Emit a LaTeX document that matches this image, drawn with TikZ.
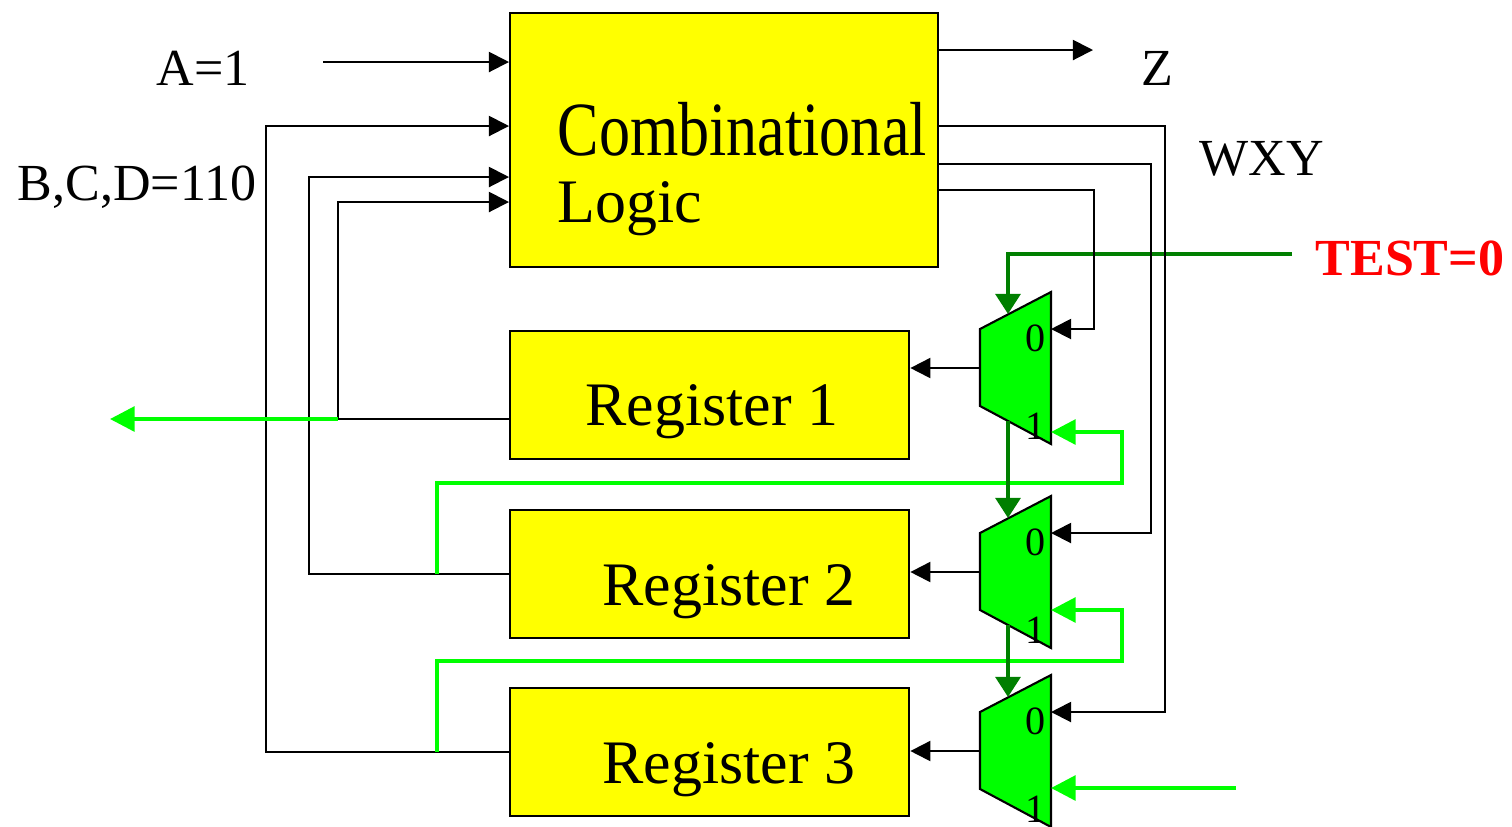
\documentclass[tikz,border=0pt]{standalone}
\usepackage{graphicx}
\usepackage{fontspec}
\setmainfont{Liberation Serif}
\usetikzlibrary{arrows.meta}
\definecolor{regyellow}{HTML}{FFFF00}
\definecolor{muxgreen}{HTML}{00FF00}
\definecolor{selgreen}{HTML}{007F00}
\definecolor{testred}{HTML}{FF0000}

\begin{document}
\begin{tikzpicture}[x=0.01cm, y=-0.01cm,
  blk/.style={draw, fill=regyellow, line width=0.6pt, anchor=north west, inner sep=0pt},
  muxbox/.style={draw, fill=muxgreen, line width=0.6pt, line join=miter},
  sig/.style={line width=0.55pt, -{Triangle[length=5.7pt,width=5.7pt]}},
  scan/.style={muxgreen, line width=1.15pt, -{Triangle[length=7pt,width=7pt]}},
  sel/.style={selgreen, line width=1.15pt, -{Triangle[length=5.7pt,width=7pt]}},
  lbl/.style={font=\fontsize{14.8}{17}\selectfont, inner sep=0pt, anchor=base},
  big/.style={font=\fontsize{17.6}{21}\selectfont, inner sep=0pt},
  pin/.style={font=\fontsize{11.4}{13}\selectfont, inner sep=0pt, anchor=base}]
\useasboundingbox (0,0) rectangle (1512,826);

% blocks
\node[blk, minimum width=4.28cm, minimum height=2.54cm] (comb) at (509,12) {};
\node[big, anchor=base west, font=\fontsize{21.8}{24}\selectfont] (combtxt) at (557,155) {\scalebox{0.81}[1]{Combinational}};
\node[big, anchor=base west] (logictxt) at (557,222) {Logic};

\node[blk, minimum width=3.99cm, minimum height=1.28cm] (reg1) at (509,330) {};
\node[blk, minimum width=3.99cm, minimum height=1.28cm] (reg2) at (509,509) {};
\node[blk, minimum width=3.99cm, minimum height=1.28cm] (reg3) at (509,687) {};
\node[big, anchor=base] (reg1txt) at (712,425) {Register 1};
\node[big, anchor=base] (reg2txt) at (729,605) {Register 2};
\node[big, anchor=base] (reg3txt) at (729,783) {Register 3};

% labels
\node[lbl] (alab) at (203,85) {A=1};
\node[lbl] (bcdlab) at (137,200) {B,C,D=110};
\node[lbl] (zlab) at (1157,85) {Z};
\node[lbl] (wxylab) at (1262,175) {WXY};
\node[lbl, font=\fontsize{14.8}{17}\selectfont\bfseries, text=testred] (testlab) at (1410,275) {TEST=0};

% muxes
\foreach \n/\t/\one in {1/292/432, 2/496/610, 3/675/788} {
  \draw[muxbox] (980,\t+37) -- (1051,\t) -- (1051,\t+152) -- (980,\t+114) -- cycle;
  \coordinate (m\n-in0) at (1051,\t+37);
  \coordinate (m\n-in1) at (1051,\one);
  \coordinate (m\n-out) at (980,\t+76);
  \coordinate (m\n-sel) at (1008,\t+22);
  \coordinate (m\n-bot) at (1008,\t+129);
  \node[pin] (m\n-zero) at (1036,\t+59) {0};
  \node[pin] (m\n-one) at (1036,\t+147) {1};
}

\coordinate (ain) at (323,62);
\coordinate (zout) at (1093,50);
\coordinate (test) at (1292,254);
\coordinate (r1out) at (509,419);
\coordinate (tap1) at (338,419);
\coordinate (tap2) at (reg2.west -| 437,0);
\coordinate (tap3) at (reg3.west -| 437,0);
\coordinate (scanout) at (110,419);
\coordinate (scanin) at (1236,788);

\draw[sel] (test) -| (m1-sel);

% data path
\draw[sig] (ain) -- (comb.west |- ain);
\draw[sig] (comb.east |- zout) -- (zout);
\draw[sig] (comb.east |- 0,126) -| (1165,712) -- (m3-in0);
\draw[sig] (comb.east |- 0,164) -| (1151,533) -- (m2-in0);
\draw[sig] (comb.east |- 0,190) -| (1094,329) -- (m1-in0);
\draw[sig] (m1-out) -- (reg1.east |- m1-out);
\draw[sig] (m2-out) -- (reg2.east |- m2-out);
\draw[sig] (m3-out) -- (reg3.east |- m3-out);
\draw[sig] (r1out) -- (tap1) |- (comb.west |- 0,202);
\draw[sig] (reg2.west) -| (309,177) -- (comb.west |- 0,177);
\draw[sig] (reg3.west) -| (266,126) -- (comb.west |- 0,126);

% scan chain
\draw[scan] (tap1) -- (scanout);
\draw[scan] (tap2) |- (1122,483) |- (m1-in1);
\draw[scan] (tap3) |- (1122,661) |- (m2-in1);
\draw[scan] (scanin) -- (m3-in1);

\draw[sel] (m1-bot) -- (m2-sel);
\draw[sel] (m2-bot) -- (m3-sel);
\end{tikzpicture}
\end{document}
